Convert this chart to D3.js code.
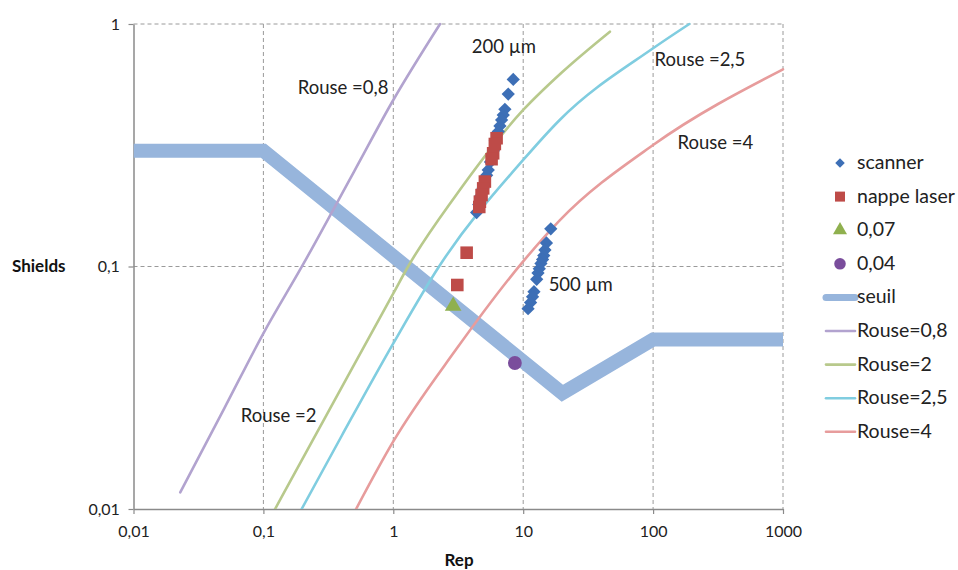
<!DOCTYPE html>
<html>
<head>
<meta charset="utf-8">
<script src="https://cdn.jsdelivr.net/npm/d3@7"></script>
<style>
  body { margin: 0; background: #fff; }
  svg { font-family: Lato, "Open Sans", sans-serif; }
</style>
</head>
<body>
<svg id="chart" width="958" height="570"></svg>
<script>
// ---------------- data ----------------
const xTicks = [0.01, 0.1, 1, 10, 100, 1000];
const yTicks = [0.01, 0.1, 1];

const scannerX = [8.38, 7.67, 7.23, 7.02, 6.82, 6.62, 6.43, 6.1, 5.9, 5.6, 5.38, 5.23, 4.9, 4.7, 4.55, 4.38,
                  16.3, 15.1, 14.7, 14.4, 14.1, 13.7, 13.3, 13.0, 12.7, 12.1, 11.8, 11.4, 10.9];
const scannerY = [0.591, 0.514, 0.445, 0.421, 0.402, 0.38, 0.36, 0.33, 0.3, 0.27, 0.25, 0.238, 0.21, 0.195, 0.18, 0.167,
                  0.143, 0.125, 0.117, 0.111, 0.107, 0.103, 0.098, 0.094, 0.0885, 0.0787, 0.075, 0.071, 0.067];

const nappeX = [6.24, 6.05, 5.87, 5.71, 5.07, 4.92, 4.78, 4.64, 4.59, 3.67, 3.11];
const nappeY = [0.338, 0.32, 0.293, 0.277, 0.224, 0.21, 0.197, 0.185, 0.176, 0.114, 0.0839];

const triX = [2.89];
const triY = [0.0687];

const circX = [8.63];
const circY = [0.04];

const seuilX = [0.01, 0.1, 20, 100, 1000];
const seuilY = [0.3, 0.3, 0.03, 0.05, 0.05];

const rouse08X = [0.0229, 0.05, 0.1, 0.2, 0.5, 1, 2.29];
const rouse08Y = [0.0117, 0.026, 0.053, 0.101, 0.247, 0.486, 1.0];

const rouse2X = [0.123, 0.3, 1, 1.3, 3, 10, 20, 46.5];
const rouse2Y = [0.01, 0.0239, 0.0775, 0.1, 0.195, 0.442, 0.634, 0.93];

const rouse25X = [0.197, 0.4, 1, 2.25, 10, 19.1, 100, 190];
const rouse25Y = [0.01, 0.02, 0.0482, 0.1, 0.275, 0.402, 0.794, 1.0];

const rouse4X = [0.517, 1, 3, 10, 19.1, 100, 1000];
const rouse4Y = [0.01, 0.019, 0.045, 0.105, 0.155, 0.317, 0.65];

const annotations = [
  {text: "200 µm", x: 4.02, y: 0.759},
  {text: "Rouse =0,8", x: 0.184, y: 0.514},
  {text: "Rouse =2,5", x: 102.7, y: 0.671},
  {text: "Rouse =4", x: 154, y: 0.305},
  {text: "500 µm", x: 15.7, y: 0.0792},
  {text: "Rouse =2", x: 0.067, y: 0.0228}
];

const legendLabels = ["scanner", "nappe laser", "0,07", "0,04", "seuil", "Rouse=0,8", "Rouse=2", "Rouse=2,5", "Rouse=4"];

// ---------------- chart ----------------
const svg = d3.select("#chart");
const pLeft = 133.5, pRight = 783, pTop = 24, pBottom = 509;

const x = d3.scaleLog().domain([0.01, 1000]).range([pLeft, pRight]);
const y = d3.scaleLog().domain([0.01, 1]).range([pBottom, pTop]);

const fmt = d => String(d).replace(".", ",");

const colors = {
  scanner: "#3d6fb6",
  nappe: "#be4b48",
  tri: "#8fb04e",
  circ: "#7a4d9c",
  seuil: "#97b5dc",
  r08: "#b2a3cf",
  r2: "#b8c98c",
  r25: "#80cde0",
  r4: "#e79c9c"
};

// gridlines
const grid = svg.append("g");
xTicks.slice(1).forEach(t => {
  grid.append("line").attr("x1", x(t)).attr("x2", x(t)).attr("y1", pTop).attr("y2", pBottom)
    .attr("stroke", "#9a9a9a").attr("stroke-dasharray", "4,3").attr("stroke-width", 1);
});
yTicks.slice(1).forEach(t => {
  grid.append("line").attr("x1", pLeft).attr("x2", pRight).attr("y1", y(t)).attr("y2", y(t))
    .attr("stroke", "#9a9a9a").attr("stroke-dasharray", "4,3").attr("stroke-width", 1);
});

// axes
const xAxis = d3.axisBottom(x).tickValues(xTicks).tickFormat(fmt).tickSize(5).tickSizeOuter(0);
const yAxis = d3.axisLeft(y).tickValues(yTicks).tickFormat(fmt).tickSize(5).tickSizeOuter(0);

const gx = svg.append("g").attr("transform", `translate(0,${pBottom})`).call(xAxis);
const gy = svg.append("g").attr("transform", `translate(${pLeft},0)`).call(yAxis);
[gx, gy].forEach(g => {
  g.select(".domain").attr("stroke", "#8a8a8a").attr("stroke-width", 1.5);
  g.selectAll(".tick line").attr("stroke", "#8a8a8a").attr("stroke-width", 1.2);
  g.selectAll(".tick text").attr("fill", "#222").style("font-size", "16px").style("font-family", "Lato, sans-serif");
});
gx.selectAll(".tick text").attr("y", 14).attr("dy", "0.9em");
gy.selectAll(".tick text").attr("dx", "-0.35em");

// axis titles
svg.append("text").attr("x", 12).attr("y", 272).text("Shields")
  .style("font-weight", "bold").style("font-size", "17px").attr("fill", "#111");
svg.append("text").attr("x", 459).attr("y", 566).attr("text-anchor", "middle").text("Rep")
  .style("font-weight", "bold").style("font-size", "17px").attr("fill", "#111");

// clip
svg.append("clipPath").attr("id", "plotclip").append("rect")
  .attr("x", pLeft).attr("y", pTop - 2).attr("width", pRight - pLeft + 2).attr("height", pBottom - pTop + 2);

const lineGen = d3.line().x(d => x(d[0])).y(d => y(d[1])).curve(d3.curveMonotoneX);
const lines = svg.append("g").attr("clip-path", "url(#plotclip)");

lines.append("path").datum(d3.zip(seuilX, seuilY))
  .attr("d", d3.line().x(d => x(d[0])).y(d => y(d[1])))
  .attr("fill", "none").attr("stroke", colors.seuil).attr("stroke-width", 14).attr("stroke-linejoin", "miter");

const rouseSeries = [
  [rouse08X, rouse08Y, colors.r08],
  [rouse2X, rouse2Y, colors.r2],
  [rouse25X, rouse25Y, colors.r25],
  [rouse4X, rouse4Y, colors.r4]
];
rouseSeries.forEach(([xs, ys, c]) => {
  lines.append("path").datum(d3.zip(xs, ys)).attr("d", lineGen)
    .attr("fill", "none").attr("stroke", c).attr("stroke-width", 2.6).attr("stroke-linecap", "round");
});

// markers
const marks = svg.append("g");
function drawMarkers(xs, ys, type, size, color, rot) {
  marks.selectAll(null).data(d3.zip(xs, ys)).join("path")
    .attr("transform", d => `translate(${x(d[0])},${y(d[1])}) rotate(${rot || 0})`)
    .attr("d", d3.symbol().type(type).size(size))
    .attr("fill", color);
}
drawMarkers(scannerX, scannerY, d3.symbolSquare, 88, colors.scanner, 45);
drawMarkers(nappeX, nappeY, d3.symbolSquare, 158, colors.nappe);
drawMarkers(triX, triY, d3.symbolTriangle, 120, colors.tri);
drawMarkers(circX, circY, d3.symbolCircle, 150, colors.circ);

// annotations
annotations.forEach(a => {
  svg.append("text").attr("x", x(a.x)).attr("y", y(a.y)).text(a.text)
    .style("font-size", "18.5px").attr("fill", "#222");
});

// legend
const legend = svg.append("g");
const legY0 = 163, legStep = 33.6, legTextX = 857, legMarkX = 840;
const legendKinds = [
  {t: "m", type: d3.symbolSquare, size: 45, c: colors.scanner, rot: 45},
  {t: "m", type: d3.symbolSquare, size: 100, c: colors.nappe},
  {t: "m", type: d3.symbolTriangle, size: 85, c: colors.tri},
  {t: "m", type: d3.symbolCircle, size: 105, c: colors.circ},
  {t: "l", w: 7, c: colors.seuil},
  {t: "l", w: 2.6, c: colors.r08},
  {t: "l", w: 2.6, c: colors.r2},
  {t: "l", w: 2.6, c: colors.r25},
  {t: "l", w: 2.6, c: colors.r4}
];
legendLabels.forEach((lab, i) => {
  const yy = legY0 + i * legStep;
  const k = legendKinds[i];
  if (k.t === "m") {
    legend.append("path").attr("transform", `translate(${legMarkX},${yy}) rotate(${k.rot || 0})`)
      .attr("d", d3.symbol().type(k.type).size(k.size)).attr("fill", k.c);
  } else {
    legend.append("line").attr("x1", 826).attr("x2", 855).attr("y1", yy).attr("y2", yy)
      .attr("stroke", k.c).attr("stroke-width", k.w).attr("stroke-linecap", "round");
  }
  legend.append("text").attr("x", legTextX).attr("y", yy + 6).text(lab)
    .style("font-size", "19.5px").attr("fill", "#222");
});
</script>
</body>
</html>
